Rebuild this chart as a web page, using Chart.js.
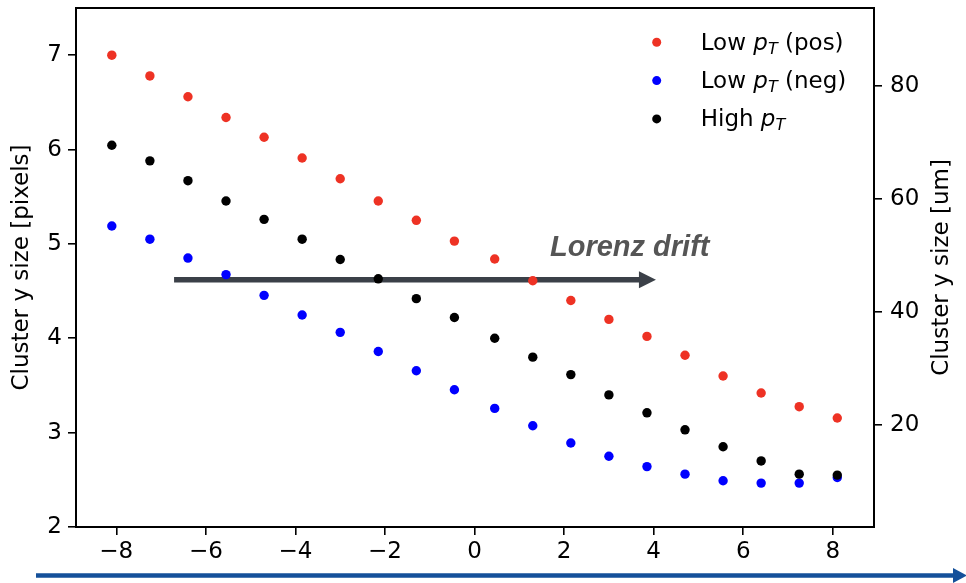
<!DOCTYPE html>
<html>
<head>
<meta charset="utf-8">
<script src="https://cdn.jsdelivr.net/npm/chart.js@4"></script>
<style>
  html, body { margin: 0; padding: 0; background: #fff; }
  #wrap { width: 966px; height: 583px; position: relative; }
</style>
</head>
<body>
<div id="wrap"><canvas id="myChart"></canvas></div>
<script>
// incidence angle positions (x)
const angles = [-8.1, -7.25, -6.4, -5.55, -4.7, -3.85, -3.0, -2.15, -1.3, -0.45,
                0.45, 1.3, 2.15, 3.0, 3.85, 4.7, 5.55, 6.4, 7.25, 8.1];

const lowPos  = [7.00, 6.78, 6.56, 6.34, 6.13, 5.91, 5.69, 5.455, 5.25, 5.03,
                 4.84, 4.61, 4.40, 4.20, 4.02, 3.82, 3.60, 3.42, 3.275, 3.155];
const lowNeg  = [5.19, 5.05, 4.85, 4.675, 4.455, 4.247, 4.063, 3.86, 3.656, 3.455,
                 3.257, 3.073, 2.89, 2.75, 2.64, 2.56, 2.49, 2.465, 2.465, 2.525];
const highPt  = [6.045, 5.88, 5.67, 5.455, 5.26, 5.05, 4.835, 4.63, 4.42, 4.22,
                 4.00, 3.80, 3.615, 3.40, 3.21, 3.03, 2.85, 2.70, 2.56, 2.55];

const xTicks = [-8, -6, -4, -2, 0, 2, 4, 6, 8];
const yTicks = [2, 3, 4, 5, 6, 7];
const umTicks = [20, 40, 60, 80];

const legendNames = [['Low ', ' (pos)'], ['Low ', ' (neg)'], ['High ', '']];
const colors = ['#ee3224', '#0000ff', '#000000'];

const pts = ys => angles.map((a, i) => ({ x: a, y: ys[i] }));
const minus = v => String(v).replace('-', '\u2212');

const overlay = {
  id: 'overlay',
  beforeDatasetsDraw(chart) {
    const { ctx, scales: { x, y } } = chart;
    // Lorenz drift arrow
    const x0 = x.getPixelForValue(-6.71), x1 = x.getPixelForValue(4.05), yy = y.getPixelForValue(4.62);
    ctx.save();
    ctx.strokeStyle = '#3b4048';
    ctx.fillStyle = '#3b4048';
    ctx.lineWidth = 5.5;
    ctx.beginPath();
    ctx.moveTo(x0, yy);
    ctx.lineTo(x1 - 14, yy);
    ctx.stroke();
    ctx.beginPath();
    ctx.moveTo(x1, yy);
    ctx.lineTo(x1 - 17, yy - 8.5);
    ctx.lineTo(x1 - 17, yy + 8.5);
    ctx.closePath();
    ctx.fill();
    ctx.font = 'italic bold 29px "Liberation Sans"';
    ctx.fillStyle = '#555555';
    ctx.textBaseline = 'alphabetic';
    ctx.fillText('Lorenz drift', x.getPixelForValue(1.685), y.getPixelForValue(4.87));
    ctx.restore();
  },
  afterDraw(chart) {
    const { ctx, chartArea: a } = chart;
    ctx.save();
    // frame
    ctx.strokeStyle = '#000';
    ctx.lineWidth = 2;
    ctx.strokeRect(a.left, a.top, a.right - a.left, a.bottom - a.top);

    // right axis title, reading bottom to top like the left one
    ctx.save();
    ctx.translate(942, (a.top + a.bottom) / 2);
    ctx.rotate(-Math.PI / 2);
    ctx.font = '23px "DejaVu Sans"';
    ctx.fillStyle = '#000';
    ctx.textAlign = 'center';
    ctx.textBaseline = 'middle';
    ctx.fillText('Cluster y size [um]', 0, 0);
    ctx.restore();

    // legend
    const fs = 23;
    legendNames.forEach((n, i) => {
      const cy = 42.3 + i * 38.3;
      ctx.fillStyle = colors[i];
      ctx.beginPath();
      ctx.arc(656.7, cy, 4.5, 0, Math.PI * 2);
      ctx.fill();
      ctx.fillStyle = '#000';
      ctx.textBaseline = 'alphabetic';
      let tx = 700.7;
      const base = cy + 7.5;
      ctx.font = fs + 'px "DejaVu Sans"';
      ctx.fillText(n[0], tx, base); tx += ctx.measureText(n[0]).width;
      ctx.font = 'italic ' + fs + 'px "DejaVu Sans"';
      ctx.fillText('p', tx, base); tx += ctx.measureText('p').width;
      ctx.font = 'italic ' + Math.round(fs * 0.7) + 'px "DejaVu Sans"';
      ctx.fillText('T', tx, base + 4); tx += ctx.measureText('T').width;
      ctx.font = fs + 'px "DejaVu Sans"';
      ctx.fillText(n[1], tx, base);
    });

    // blue arrow under the x axis
    ctx.strokeStyle = '#14509a';
    ctx.fillStyle = '#14509a';
    ctx.lineWidth = 4.5;
    ctx.beginPath();
    ctx.moveTo(36, 575.5);
    ctx.lineTo(956, 575.5);
    ctx.stroke();
    ctx.beginPath();
    ctx.moveTo(967, 575.5);
    ctx.lineTo(953, 568);
    ctx.lineTo(953, 583);
    ctx.closePath();
    ctx.fill();
    ctx.restore();
  }
};

const tickFont = { family: 'DejaVu Sans', size: 23 };

const noPadV = s => { s.paddingTop = 0; s.paddingBottom = 0; };

const ctx = document.getElementById('myChart').getContext('2d');
const myChart = new Chart(ctx, {
  type: 'scatter',
  data: {
    datasets: [
      { label: 'Low pT (pos)', data: pts(lowPos), backgroundColor: colors[0], borderWidth: 0, pointRadius: 4.7, order: 3 },
      { label: 'Low pT (neg)', data: pts(lowNeg), backgroundColor: colors[1], borderWidth: 0, pointRadius: 4.7, order: 2 },
      { label: 'High pT', data: pts(highPt), backgroundColor: colors[2], borderWidth: 0, pointRadius: 4.7, order: 1 }
    ]
  },
  options: {
    responsive: true,
    maintainAspectRatio: false,
    devicePixelRatio: 1,
    animation: false,
    layout: { padding: { top: 8, left: 0, right: 0, bottom: 0 } },
    plugins: { legend: { display: false }, tooltip: { enabled: false } },
    scales: {
      x: {
        type: 'linear', min: -8.9, max: 8.92,
        afterBuildTicks: s => { s.ticks = xTicks.map(v => ({ value: v })); },
        afterFit: s => { s.height = 56; s.paddingLeft = 0; s.paddingRight = 0; },
        border: { display: false },
        grid: { drawOnChartArea: false, tickLength: 8, color: '#000', lineWidth: 1.6 },
        ticks: { font: tickFont, color: '#000', padding: 3, maxRotation: 0, callback: v => minus(v) }
      },
      y: {
        position: 'left', min: 2, max: 7.5,
        afterBuildTicks: s => { s.ticks = yTicks.map(v => ({ value: v })); },
        afterFit: s => { s.width = 76; noPadV(s); },
        border: { display: false },
        grid: { drawOnChartArea: false, tickLength: 8, color: '#000', lineWidth: 1.6 },
        ticks: { font: tickFont, color: '#000', padding: 6 },
        title: { display: true, text: 'Cluster y size [pixels]', font: tickFont, color: '#000', padding: { top: 8, bottom: 0 } }
      },
      y2: {
        position: 'right', min: 1.95, max: 93.8,
        afterBuildTicks: s => { s.ticks = umTicks.map(v => ({ value: v })); },
        afterFit: s => { s.width = 92; noPadV(s); },
        border: { display: false },
        grid: { drawOnChartArea: false, tickLength: 8, color: '#000', lineWidth: 1.6 },
        ticks: { font: tickFont, color: '#000', padding: 8 }
      }
    }
  },
  plugins: [overlay]
});
</script>
</body>
</html>
